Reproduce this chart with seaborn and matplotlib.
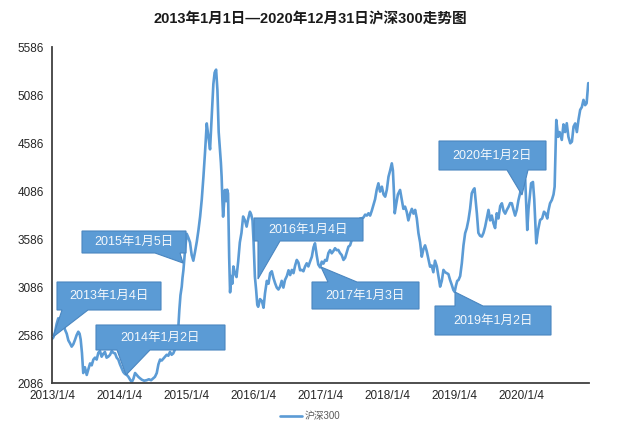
import matplotlib
matplotlib.use('Agg')
import matplotlib.pyplot as plt
from matplotlib.patches import Polygon
import pandas as pd
import seaborn as sns

title = '2013年1月1日—2020年12月31日沪深300走势图'
series_name = '沪深300'

dates = [
    '2013-01-04', '2013-01-11', '2013-01-20', '2013-01-29', '2013-02-07', '2013-02-18', '2013-02-26',
    '2013-03-06', '2013-03-16', '2013-03-25', '2013-04-03', '2013-04-12', '2013-04-21', '2013-04-30',
    '2013-05-09', '2013-05-18', '2013-05-27', '2013-06-03', '2013-06-09', '2013-06-16', '2013-06-23',
    '2013-07-02', '2013-07-12', '2013-07-21', '2013-07-30', '2013-08-08', '2013-08-17', '2013-08-26',
    '2013-09-04', '2013-09-13', '2013-09-22', '2013-10-01', '2013-10-10', '2013-10-19', '2013-10-28',
    '2013-11-06', '2013-11-16', '2013-11-25', '2013-12-04', '2013-12-13', '2013-12-22', '2013-12-31',
    '2014-01-09', '2014-01-18', '2014-01-27', '2014-02-05', '2014-02-15', '2014-02-24', '2014-03-05',
    '2014-03-14', '2014-03-23', '2014-04-01', '2014-04-10', '2014-04-19', '2014-04-28', '2014-05-08',
    '2014-05-20', '2014-06-03', '2014-06-15', '2014-06-27', '2014-07-09', '2014-07-18', '2014-07-28',
    '2014-08-06', '2014-08-15', '2014-08-24', '2014-09-02', '2014-09-11', '2014-09-20', '2014-09-29',
    '2014-10-08', '2014-10-17', '2014-10-26', '2014-11-05', '2014-11-14', '2014-11-21', '2014-11-28',
    '2014-12-04', '2014-12-11', '2014-12-15', '2014-12-20', '2014-12-25', '2014-12-29', '2015-01-07',
    '2015-01-16', '2015-01-25', '2015-02-03', '2015-02-12', '2015-02-21', '2015-03-03', '2015-03-12',
    '2015-03-21', '2015-03-30', '2015-04-08', '2015-04-17', '2015-04-26', '2015-05-05', '2015-05-14',
    '2015-05-23', '2015-06-01', '2015-06-08', '2015-06-16', '2015-06-23', '2015-06-30', '2015-07-07',
    '2015-07-12', '2015-07-16', '2015-07-20', '2015-07-24', '2015-07-29', '2015-08-03', '2015-08-10',
    '2015-08-15', '2015-08-20', '2015-08-26', '2015-08-31', '2015-09-06', '2015-09-12', '2015-09-18',
    '2015-09-26', '2015-10-05', '2015-10-14', '2015-10-23', '2015-11-01', '2015-11-10', '2015-11-20',
    '2015-11-29', '2015-12-08', '2015-12-17', '2015-12-24', '2015-12-31', '2016-01-06', '2016-01-13',
    '2016-01-20', '2016-01-26', '2016-01-31', '2016-02-10', '2016-02-20', '2016-02-29', '2016-03-08',
    '2016-03-18', '2016-03-27', '2016-04-05', '2016-04-14', '2016-04-23', '2016-05-02', '2016-05-11',
    '2016-05-20', '2016-05-29', '2016-06-07', '2016-06-16', '2016-06-25', '2016-07-05', '2016-07-14',
    '2016-07-23', '2016-08-01', '2016-08-10', '2016-08-19', '2016-08-28', '2016-09-06', '2016-09-15',
    '2016-09-24', '2016-10-03', '2016-10-12', '2016-10-21', '2016-10-30', '2016-11-08', '2016-11-18',
    '2016-11-27', '2016-12-05', '2016-12-14', '2016-12-23', '2017-01-02', '2017-01-11', '2017-01-20',
    '2017-01-29', '2017-02-07', '2017-02-16', '2017-02-25', '2017-03-06', '2017-03-15', '2017-03-24',
    '2017-04-02', '2017-04-11', '2017-04-20', '2017-04-29', '2017-05-09', '2017-05-18', '2017-05-27',
    '2017-06-05', '2017-06-14', '2017-06-23', '2017-07-02', '2017-07-11', '2017-07-20', '2017-07-29',
    '2017-08-08', '2017-08-17', '2017-08-26', '2017-09-04', '2017-09-13', '2017-09-22', '2017-10-01',
    '2017-10-10', '2017-10-19', '2017-10-28', '2017-11-06', '2017-11-15', '2017-11-24', '2017-12-04',
    '2017-12-13', '2017-12-22', '2017-12-31', '2018-01-09', '2018-01-18', '2018-01-27', '2018-02-02',
    '2018-02-07', '2018-02-12', '2018-02-20', '2018-03-01', '2018-03-13', '2018-03-22', '2018-03-31',
    '2018-04-09', '2018-04-18', '2018-04-27', '2018-05-07', '2018-05-16', '2018-05-25', '2018-06-03',
    '2018-06-12', '2018-06-21', '2018-06-30', '2018-07-09', '2018-07-18', '2018-07-27', '2018-08-05',
    '2018-08-14', '2018-08-23', '2018-09-01', '2018-09-10', '2018-09-19', '2018-09-29', '2018-10-08',
    '2018-10-17', '2018-10-26', '2018-11-04', '2018-11-13', '2018-11-22', '2018-12-01', '2018-12-10',
    '2018-12-19', '2018-12-28', '2019-01-04', '2019-01-11', '2019-01-18', '2019-01-25', '2019-02-03',
    '2019-02-12', '2019-02-21', '2019-03-02', '2019-03-11', '2019-03-20', '2019-03-29', '2019-04-07',
    '2019-04-16', '2019-04-22', '2019-04-30', '2019-05-05', '2019-05-13', '2019-05-22', '2019-06-01',
    '2019-06-10', '2019-06-19', '2019-06-28', '2019-07-07', '2019-07-16', '2019-07-25', '2019-08-03',
    '2019-08-12', '2019-08-21', '2019-08-30', '2019-09-09', '2019-09-18', '2019-09-27', '2019-10-06',
    '2019-10-15', '2019-10-24', '2019-11-02', '2019-11-11', '2019-11-20', '2019-11-29', '2019-12-08',
    '2019-12-17', '2019-12-26', '2020-01-04', '2020-01-14', '2020-01-23', '2020-02-03', '2020-02-10',
    '2020-02-24', '2020-03-05', '2020-03-12', '2020-03-23', '2020-04-02', '2020-04-13', '2020-04-24',
    '2020-05-04', '2020-05-12', '2020-05-22', '2020-05-28', '2020-06-06', '2020-06-16', '2020-06-25',
    '2020-07-01', '2020-07-06', '2020-07-10', '2020-07-20', '2020-07-28', '2020-08-09', '2020-08-18',
    '2020-08-27', '2020-09-05', '2020-09-14', '2020-09-24', '2020-10-03', '2020-10-12', '2020-10-21',
    '2020-10-30', '2020-11-08', '2020-11-17', '2020-11-26', '2020-12-05', '2020-12-14', '2020-12-22',
    '2020-12-31',
]

values = [
    2545, 2560, 2610, 2700, 2760, 2730, 2745,
    2700, 2640, 2600, 2530, 2500, 2465, 2490,
    2535, 2585, 2620, 2600, 2540, 2400, 2190,
    2250, 2170, 2230, 2290, 2270, 2330, 2350,
    2330, 2400, 2420, 2360, 2390, 2410, 2350,
    2360, 2380, 2420, 2400, 2395, 2350, 2330,
    2280, 2240, 2200, 2180, 2170, 2150, 2120,
    2095, 2130, 2190, 2170, 2150, 2135, 2120,
    2110, 2115, 2125, 2115, 2135, 2150, 2190,
    2280, 2330, 2320, 2340, 2360, 2380, 2370,
    2410, 2380, 2395, 2440, 2530, 2620, 2850,
    3000, 3090, 3180, 3260, 3380, 3470, 3640,
    3600, 3550, 3420, 3360, 3450, 3560, 3680,
    3820, 4000, 4235, 4500, 4790, 4650, 4520,
    4850, 5200, 5320, 5350, 5140, 4700, 4514,
    4380, 4235, 4000, 3819, 3950, 4097, 3980,
    4100, 4060, 3400, 3030, 3200, 3120, 3300,
    3230, 3190, 3350, 3550, 3650, 3820, 3780,
    3715, 3800, 3870, 3840, 3780, 3550, 3194,
    3050, 2900, 2880, 2960, 2940, 2870, 3020,
    3150, 3120, 3230, 3250, 3180, 3125, 3080,
    3060, 3090, 3150, 3080, 3160, 3200, 3260,
    3210, 3264, 3230, 3310, 3368, 3340, 3260,
    3264, 3250, 3300, 3333, 3300, 3350, 3402,
    3500, 3541, 3420, 3320, 3290, 3350, 3330,
    3368, 3360, 3440, 3470, 3437, 3460, 3490,
    3470, 3472, 3440, 3420, 3368, 3390, 3450,
    3506, 3520, 3576, 3650, 3680, 3750, 3740,
    3800, 3802, 3810, 3840, 3830, 3854, 3830,
    3880, 3941, 4000, 4100, 4166, 4080, 4131,
    4050, 4027, 4100, 4235, 4300, 4374, 4300,
    4097, 3854, 3950, 4050, 4097, 4000, 3900,
    3923, 3870, 3780, 3854, 3900, 3850, 3889,
    3800, 3646, 3550, 3402, 3480, 3520, 3460,
    3380, 3298, 3310, 3240, 3360, 3300, 3194,
    3090, 3150, 3264, 3240, 3230, 3220, 3159,
    3110, 3055, 3035, 3100, 3150, 3159, 3200,
    3333, 3520, 3646, 3700, 3784, 3900, 4062,
    4100, 4114, 3950, 3850, 3650, 3620, 3611,
    3650, 3715, 3800, 3889, 3780, 3830, 3750,
    3700, 3854, 3800, 3930, 3958, 3880, 3850,
    3889, 3920, 3960, 3958, 3890, 3830, 3889,
    3990, 4062, 4150, 4200, 4201, 3680, 3900,
    4166, 4180, 4000, 3541, 3680, 3784, 3800,
    3870, 3854, 3800, 3880, 3958, 3993, 4050,
    4131, 4500, 4826, 4650, 4700, 4618, 4780,
    4700, 4792, 4650, 4583, 4600, 4757, 4790,
    4700, 4830, 4931, 4960, 5035, 4980, 5000,
    5210,
]

y_ticks = [2086, 2586, 3086, 3586, 4086, 4586, 5086, 5586]
x_tick_dates = ['2013-01-04', '2014-01-04', '2015-01-04', '2016-01-04',
                '2017-01-04', '2018-01-04', '2019-01-04', '2020-01-04']
x_tick_labels = ['2013/1/4', '2014/1/4', '2015/1/4', '2016/1/4',
                 '2017/1/4', '2018/1/4', '2019/1/4', '2020/1/4']
callout_labels = ['2013年1月4日', '2014年1月2日', '2015年1月5日', '2016年1月4日',
                  '2017年1月3日', '2019年1月2日', '2020年1月2日']

sns.set_style('white')
plt.rcParams['font.family'] = ['Liberation Sans', 'Noto Sans CJK SC', 'DejaVu Sans']

W, H = 621, 434
fig = plt.figure(figsize=(W / 100, H / 100), dpi=100)
fig.patch.set_facecolor('white')

def fx(px):
    return px / W

def fy(py):
    return 1 - py / H

ax = fig.add_axes([fx(52), fy(383), (589 - 52) / W, (383 - 47) / H])

df = pd.DataFrame({'date': pd.to_datetime(dates), series_name: values})
sns.lineplot(data=df, x='date', y=series_name, ax=ax, color='#5b9bd5',
             linewidth=1.9, label=series_name, legend=False)

ax.set_xlim(pd.Timestamp('2013-01-04'), pd.Timestamp('2021-01-04'))
ax.set_ylim(y_ticks[0], y_ticks[-1])
ax.set_yticks(y_ticks)
ax.set_yticklabels([str(v) for v in y_ticks])
ax.set_xticks(pd.to_datetime(x_tick_dates))
ax.set_xticklabels(x_tick_labels)
ax.set_xlabel('')
ax.set_ylabel('')
for s in ['top', 'right']:
    ax.spines[s].set_visible(False)
for s in ['left', 'bottom']:
    ax.spines[s].set_color('#404040')
    ax.spines[s].set_linewidth(1.3)
ax.tick_params(axis='both', colors='#404040', labelcolor='#262626', labelsize=8.5,
               length=3, width=1, pad=3)
ax.tick_params(axis='x', direction='inout', length=4)
ax.tick_params(axis='y', direction='out')
ax.grid(False)

fig.text(0.5, fy(20), title, ha='center', va='center', fontsize=10.5,
         fontweight='bold', color='#1a1a1a')

handles, labels = ax.get_legend_handles_labels()
leg = fig.legend(handles, labels, loc='center', bbox_to_anchor=(fx(310), fy(416)),
                 frameon=False, fontsize=7, handlelength=2.3, handletextpad=0.3)
for t in leg.get_texts():
    t.set_color('#595959')

# callouts: (label, box x0, y0, x1, y1, edge, base a, base b, tip x, tip y) in pixels
callouts = [
    (callout_labels[0], 57, 282, 161, 310, 'bottom', 62, 88, 53, 337),
    (callout_labels[1], 96, 325, 225, 350, 'bottom', 117, 150, 126, 375),
    (callout_labels[2], 82, 231, 186, 253, 'bottom', 155, 180, 183, 263),
    (callout_labels[3], 254, 218, 363, 241, 'bottom', 258, 280, 258, 279),
    (callout_labels[4], 312, 282, 419, 309, 'top', 328, 357, 321, 267),
    (callout_labels[5], 435, 306, 551, 335, 'top', 455, 483, 455, 292),
    (callout_labels[6], 439, 141, 546, 170, 'bottom', 507, 528, 522, 195),
]
for lab, x0, y0, x1, y1, edge, ba, bb, tx, ty in callouts:
    if edge == 'bottom':
        pts = [(x0, y0), (x1, y0), (x1, y1), (bb, y1), (tx, ty), (ba, y1), (x0, y1)]
    else:
        pts = [(x0, y0), (ba, y0), (tx, ty), (bb, y0), (x1, y0), (x1, y1), (x0, y1)]
    poly = Polygon([(fx(p[0]), fy(p[1])) for p in pts], closed=True,
                   transform=fig.transFigure, facecolor='#5b9bd5',
                   edgecolor='#4a86c0', linewidth=0.8, zorder=5)
    fig.add_artist(poly)
    fig.text(fx((x0 + x1) / 2), fy((y0 + y1) / 2), lab, ha='center', va='center',
             fontsize=9, color='#f4f8fc', zorder=6,
             family=['Liberation Sans', 'Noto Sans CJK SC'])

fig.savefig('out.png', dpi=100, facecolor='white')
